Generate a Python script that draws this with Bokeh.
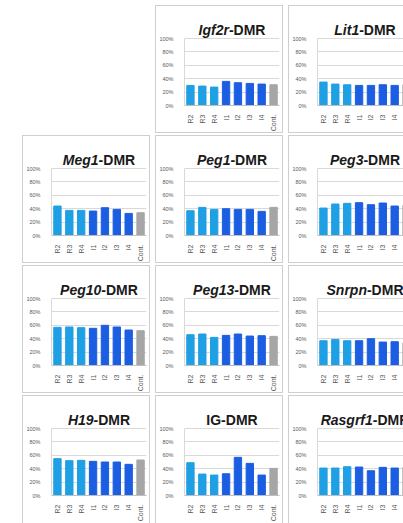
import math
from bokeh.plotting import figure
from bokeh.layouts import row, column
from bokeh.models import Spacer, Label, FixedTicker, ColumnDataSource
from bokeh.embed import file_html
from bokeh.resources import INLINE

# ---------------- data ----------------
categories = ["R2", "R3", "R4", "I1", "I2", "I3", "I4", "Cont."]
y_ticks = [0, 20, 40, 60, 80, 100]
y_tick_labels = ["0%", "20%", "40%", "60%", "80%", "100%"]

igf2r = [30, 29, 27.5, 36, 34, 33, 32, 31]
lit1 = [35, 32, 31, 30, 30, 31, 30, 31]
meg1 = [44, 37.5, 37.5, 36.5, 41.5, 39, 33, 34]
peg1 = [37, 42, 39, 40, 39, 39, 36, 42]
peg3 = [41, 47, 48, 49, 46, 48.5, 44, 45]
peg10 = [57, 57.5, 56.5, 55.5, 60, 57.5, 53, 52]
peg13 = [46, 47, 42, 45, 47, 44, 44.5, 43.5]
snrpn = [37, 39, 37, 37, 40, 35, 35.5, 34]
h19 = [55, 52, 52.5, 51, 50, 50, 46.5, 53]
ig = [49, 32, 30.5, 32.5, 57, 48, 30.5, 40.5]
rasgrf1 = [41, 41, 43, 42.5, 37, 42, 41, 42]

# (gene name, italic?, values)
grid_rows = [
    [None, ("Igf2r", True, igf2r), ("Lit1", True, lit1)],
    [("Meg1", True, meg1), ("Peg1", True, peg1), ("Peg3", True, peg3)],
    [("Peg10", True, peg10), ("Peg13", True, peg13), ("Snrpn", True, snrpn)],
    [("H19", True, h19), ("IG", False, ig), ("Rasgrf1", True, rasgrf1)],
]
suffix = "-DMR"

# ---------------- styling ----------------
LIGHT = "#20a0e4"
DARK = "#1c5ee2"
GREY = "#a6a6a6"
bar_colors = [LIGHT] * 3 + [DARK] * 4 + [GREY]
FONT = "Liberation Sans"
TITLE_SIZE = 14
# Liberation Sans Bold advance widths (per em)
W = {'-': .333, '0': .556, '1': .556, '2': .556, '3': .556, '9': .556,
     'D': .722, 'G': .778, 'H': .722, 'I': .278, 'L': .611, 'M': .833,
     'P': .667, 'R': .722, 'S': .667, 'a': .556, 'e': .556, 'f': .333,
     'g': .611, 'i': .278, 'n': .611, 'p': .611, 'r': .389, 's': .556,
     't': .333}


def tw(s):
    return sum(W.get(c, .556) for c in s) * TITLE_SIZE


PANEL_W = 128
PANEL_H = 128
COL3_W = 115
LEFT = 28
RIGHT = 5
BOTTOM = 26
PX100 = 69          # pixel height of 0..100 %
FULL_FRAME_W = PANEL_W - LEFT - RIGHT
N = len(categories)


def make_panel(gene, italic, values, clip_right, last_row):
    width = COL3_W if clip_right else PANEL_W
    right = 0 if clip_right else RIGHT
    frame_w = width - LEFT - right
    x_end = N * frame_w / FULL_FRAME_W
    frame_h = PANEL_H - BOTTOM
    y_end = 100 * frame_h / PX100
    p = figure(width=width, height=PANEL_H, x_range=(0, x_end), y_range=(0, y_end),
               output_backend="svg", toolbar_location=None, title=None,
               min_border_left=LEFT, min_border_right=right,
               min_border_top=0, min_border_bottom=BOTTOM)
    src = ColumnDataSource(dict(x=[i + 0.5 for i in range(N)], top=values,
                                color=bar_colors))
    p.vbar(x="x", top="top", width=0.62, color="color", source=src)

    p.outline_line_color = None
    p.background_fill_color = "white"
    p.border_fill_color = "white"
    p.xgrid.visible = False
    p.ygrid.ticker = FixedTicker(ticks=y_ticks)
    p.ygrid.grid_line_color = "#d9d9d9"
    p.ygrid.grid_line_width = 1

    ya = p.yaxis[0]
    ya.ticker = FixedTicker(ticks=y_ticks)
    ya.bounds = (0, 100)
    ya.major_label_overrides = {t: l for t, l in zip(y_ticks, y_tick_labels)}
    ya.major_tick_line_color = None
    ya.minor_tick_line_color = None
    ya.axis_line_color = "#d9d9d9"
    ya.major_label_text_font = FONT
    ya.major_label_text_font_size = "5.5px"
    ya.major_label_text_color = "#595959"
    ya.major_label_standoff = 5

    xa = p.xaxis[0]
    xa.ticker = FixedTicker(ticks=[i + 0.5 for i in range(N)])
    xa.major_label_overrides = {i + 0.5: c for i, c in enumerate(categories)}
    xa.major_label_orientation = math.pi / 2
    xa.major_tick_line_color = None
    xa.minor_tick_line_color = None
    xa.axis_line_color = "#bfbfbf"
    xa.major_label_text_font = FONT
    xa.major_label_text_font_size = "7px"
    xa.major_label_text_color = "#595959"
    xa.major_label_standoff = 3

    # title: italic gene name + bold "-DMR", centred over the full plot area
    cx = FULL_FRAME_W / 2
    wg, ws = tw(gene), tw(suffix)
    junction = cx - (wg + ws) / 2 + wg
    ty = PX100 + 7
    p.add_layout(Label(x=junction, y=ty, x_units="screen", y_units="screen",
                       text=gene, text_align="right", text_baseline="alphabetic",
                       text_font=FONT, text_font_size=f"{TITLE_SIZE}px",
                       text_font_style="bold italic" if italic else "bold",
                       text_color="#1a1a1a"))
    p.add_layout(Label(x=junction, y=ty, x_units="screen", y_units="screen",
                       text=suffix, text_align="left", text_baseline="alphabetic",
                       text_font=FONT, text_font_size=f"{TITLE_SIZE}px",
                       text_font_style="bold", text_color="#1a1a1a"))

    st = {"border": "1px solid #cfcfcf", "box-sizing": "border-box"}
    if clip_right:
        st["border-right"] = "none"
    if last_row:
        st["border-bottom"] = "none"
    p.styles = st
    return p


rows = []
for ri, r in enumerate(grid_rows):
    children = [Spacer(width=17, height=PANEL_H)]
    for ci, cell in enumerate(r):
        if cell is None:
            children.append(Spacer(width=PANEL_W, height=PANEL_H))
        else:
            g, it, v = cell
            children.append(make_panel(g, it, v, ci == 2, ri == len(grid_rows) - 1))
    rows.append(row(*children, spacing=5))

layout = column(Spacer(width=10, height=3), *rows, spacing=2)

open("out.html", "w").write(file_html(layout, INLINE))
